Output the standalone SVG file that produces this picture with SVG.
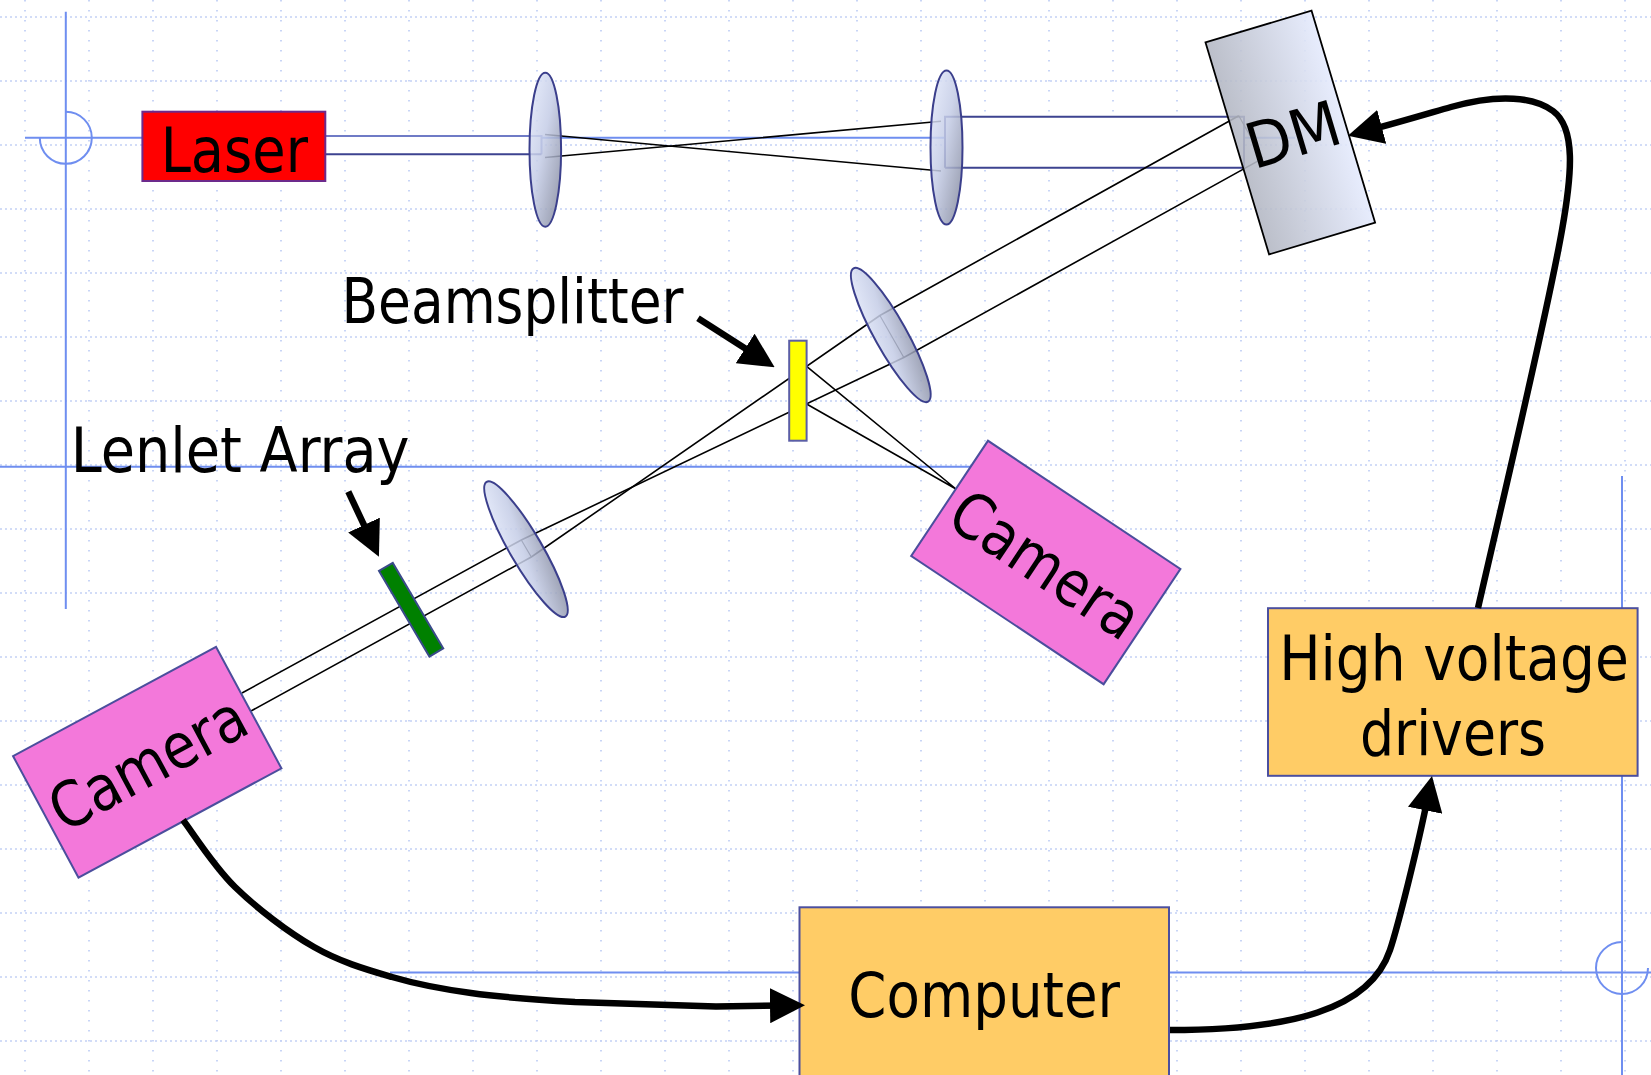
<svg xmlns="http://www.w3.org/2000/svg" width="1651" height="1075" viewBox="0 0 1651 1075">
<style>
.gridh{fill:none;stroke:#c3d1f5;stroke-width:1.6;stroke-dasharray:2 3}
.gridv{fill:none;stroke:#c3d1f5;stroke-width:1.8;stroke-dasharray:1.6 8.4}
.guide{fill:none;stroke:#6f8ef0;stroke-width:2}
.beam{fill:#ffffff;stroke:none}
.bline{fill:none;stroke:#3d4390;stroke-width:2}
.ray{fill:none;stroke:#000;stroke-width:1.6}
.rayend{fill:none;stroke:#000;stroke-width:1.2}
.lens{fill:url(#lensGrad);fill-opacity:0.85;stroke:#3b3f8c;stroke-width:2}
.lbl{font-family:'DejaVu Sans Condensed','DejaVu Sans',sans-serif;font-stretch:condensed;font-size:63px;fill:#000}
.cam{fill:#f378da;stroke:#4b4e9d;stroke-width:2}
.box{fill:#ffcc66;stroke:#4b4f9f;stroke-width:2}
.conn{fill:none;stroke:#000;stroke-width:6.5}
</style>
<defs>
<linearGradient id="lensGrad" x1="0" y1="0" x2="1" y2="1">
<stop offset="0" stop-color="#e6ecfd"/>
<stop offset="0.45" stop-color="#c4cce6"/>
<stop offset="1" stop-color="#7b8094"/>
</linearGradient>
<linearGradient id="dmGrad" x1="0" y1="0" x2="1" y2="0">
<stop offset="0" stop-color="#b2b6c2"/>
<stop offset="1" stop-color="#e4eafd"/>
</linearGradient>
<marker id="head" markerUnits="userSpaceOnUse" markerWidth="35" markerHeight="35" refX="15" refY="17.5" orient="auto">
<path d="M0,0 L35,17.5 L0,35 Z" fill="#000"/>
</marker>
</defs>
<rect x="0" y="0" width="1651" height="1075" fill="#ffffff"/>
<g id="grid">
<path class="gridv" d="M25,0V1075M89,0V1075M153,0V1075M217,0V1075M281,0V1075M345,0V1075M409,0V1075M473,0V1075M537,0V1075M601,0V1075M665,0V1075M729,0V1075M793,0V1075M857,0V1075M921,0V1075M985,0V1075M1049,0V1075M1113,0V1075M1177,0V1075M1241,0V1075M1305,0V1075M1369,0V1075M1433,0V1075M1497,0V1075M1561,0V1075M1625,0V1075"/>
<path class="gridh" d="M0,17H1651M0,81H1651M0,145H1651M0,209H1651M0,273H1651M0,337H1651M0,401H1651M0,465H1651M0,529H1651M0,593H1651M0,657H1651M0,721H1651M0,785H1651M0,849H1651M0,913H1651M0,977H1651M0,1041H1651"/>
</g>
<g id="guides">
<path class="guide" d="M65.8,11.7V609M25,137.8H1295M0,466.7H990M1622,476V1075M390,972.5H1651"/>
<path class="guide" d="M65.8,111.8A26,26 0 1 1 39.8,137.8"/>
<path class="guide" d="M1622,942A26,26 0 1 0 1648,968"/>
</g>
<g id="beams">
<rect class="beam" x="325" y="136" width="216.5" height="18.3"/>
<path fill="none" stroke="#6f7bc6" stroke-width="2" d="M325,136H541.5V154.3"/>
<path class="bline" d="M325,154.3H541.5"/>
<rect class="beam" x="945" y="116.7" width="299" height="51"/>
<path class="bline" d="M945,167.7V116.7H1244V167.7H945"/>
<path class="ray" d="M545,134.5L941,171M545,157.5L941,121.3"/>
<path class="ray" d="M1238.8,115.7L879.9,315.5L531.3,557L251,711"/>
<path class="ray" d="M1262.7,158.4L903.8,357.5L521.3,540L242,693"/>
<path class="rayend" d="M1238.8,115.7L1262.7,158.4M879.9,315.5L903.8,357.5M521.3,540L531.3,557"/>
<path class="ray" d="M806.6,366.3L956,489M806.6,404L956,489"/>
</g>
<g id="lens1"><ellipse class="lens" cx="545.3" cy="149.7" rx="15.8" ry="77"/></g>
<g id="lens2"><ellipse class="lens" cx="946.5" cy="147.5" rx="16" ry="77"/></g>
<g id="lens3"><ellipse class="lens" cx="0" cy="0" rx="16" ry="76.4" transform="translate(890.8,335) rotate(-29.2)"/></g>
<g id="lens4"><ellipse class="lens" cx="0" cy="0" rx="16" ry="78" transform="translate(526,549.2) rotate(-30.3)"/></g>
<g id="dm" transform="translate(1290.3,132.5) rotate(-16.7)">
<rect x="-55.35" y="-110.65" width="110.7" height="221.3" fill="url(#dmGrad)" fill-opacity="0.88" stroke="#000" stroke-width="1.8"/>
<text class="lbl" x="2" y="25" text-anchor="middle" textLength="95" lengthAdjust="spacingAndGlyphs">DM</text>
</g>
<g id="beamsplitter"><rect x="789.2" y="340.7" width="17.4" height="100" fill="#ffff00" stroke="#5b5ea6" stroke-width="2"/></g>
<g id="lenslet" transform="translate(411.1,609.7) rotate(-30.5)"><rect x="-8" y="-49.7" width="16" height="99.4" fill="#008000" stroke="#3a4a8a" stroke-width="2"/></g>
<g id="laser">
<rect x="142.4" y="111.7" width="182.9" height="69.3" fill="#ff0000" stroke="#6c2a8c" stroke-width="2"/>
<text class="lbl" x="234.3" y="171.7" text-anchor="middle" textLength="147.3" lengthAdjust="spacingAndGlyphs">Laser</text>
</g>
<g id="camera1" transform="translate(147.25,762.2) rotate(-28.3)">
<rect class="cam" x="-115.25" y="-69" width="230.5" height="138"/>
<text class="lbl" x="0" y="23" text-anchor="middle" textLength="214" lengthAdjust="spacingAndGlyphs">Camera</text>
</g>
<g id="camera2" transform="translate(1045.8,562.5) rotate(33.7)">
<rect class="cam" x="-115.65" y="-69.2" width="231.3" height="138.4"/>
<text class="lbl" x="1" y="24" text-anchor="middle" textLength="214" lengthAdjust="spacingAndGlyphs">Camera</text>
</g>
<g id="computer">
<rect class="box" x="799.5" y="907.3" width="369.5" height="170"/>
<text class="lbl" x="984.2" y="1016.7" text-anchor="middle" textLength="271.7" lengthAdjust="spacingAndGlyphs">Computer</text>
</g>
<g id="hvdrivers">
<rect class="box" x="1268" y="608.2" width="369.6" height="167.6"/>
<text class="lbl" x="1454" y="679.7" text-anchor="middle" textLength="349.6" lengthAdjust="spacingAndGlyphs">High voltage</text>
<text class="lbl" x="1453" y="754.9" text-anchor="middle" textLength="186.2" lengthAdjust="spacingAndGlyphs">drivers</text>
</g>
<g id="label-beamsplitter"><text class="lbl" x="341.5" y="323.3" textLength="342" lengthAdjust="spacingAndGlyphs">Beamsplitter</text></g>
<g id="label-lenslet"><text class="lbl" x="70.8" y="471.7" textLength="338.7" lengthAdjust="spacingAndGlyphs">Lenlet Array</text></g>
<g id="connectors">
<path class="conn" marker-end="url(#head)" d="M698,318.3L757.8,356.5"/>
<path class="conn" marker-end="url(#head)" d="M348.3,491.7L370.4,538.6"/>
<path class="conn" marker-end="url(#head)" d="M183,820C191.7,831.2 213.2,865.8 235,887C256.8,908.2 287.8,932 314,947C340.2,962 365.8,969.3 392,977C418.2,984.7 440.5,988.8 471,993C501.5,997.2 534.2,999.7 575,1002L716,1006.5L785,1005.5"/>
<path class="conn" marker-end="url(#head)" d="M1170,1030C1290,1030 1370,1010 1390,950C1398,926 1418,846 1428.1,795.6"/>
<path class="conn" marker-end="url(#head)" d="M1478,608C1512,460 1548,310 1562,230C1572,174 1576,128 1553,111C1534.6,97.4 1500,93 1451,107C1430,113 1400,122 1367.2,130.7"/>
</g>
</svg>
